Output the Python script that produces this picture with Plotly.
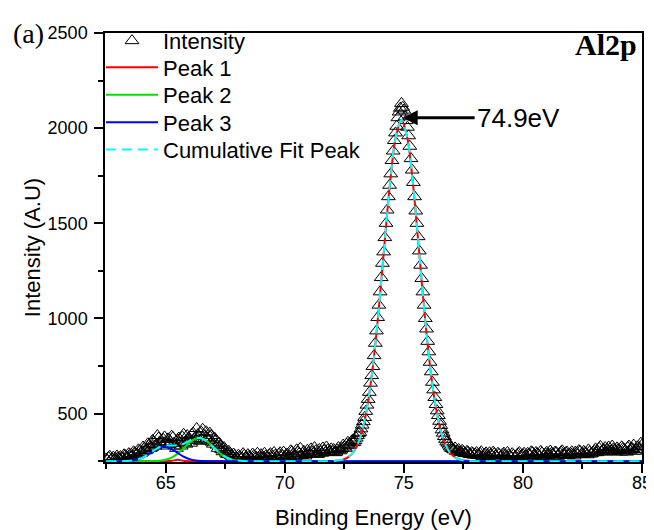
import numpy as np
import plotly.graph_objects as go

# ---------------- data ----------------
# measured spectrum: values on the 0.1 eV grid (62.5 .. 85.0) ...
grid_a = np.round(np.arange(62.5, 85.0001, 0.1), 2)
intensity_a_low = [  # 62.5 .. 71.9
    262, 270, 258, 272, 265, 268, 275, 266, 280, 272,
    285, 278, 295, 288, 305, 298, 318, 310, 335, 322,
    352, 338, 372, 345, 365, 340, 368, 352, 375, 330,
    362, 345, 378, 350, 385, 362, 392, 370, 422, 380,
    402, 365, 405, 358, 385, 340, 362, 318, 332, 300,
    305, 285, 292, 272, 280, 265, 275, 268, 282, 270,
    276, 264, 280, 272, 268, 285, 270, 278, 266, 290,
    275, 282, 268, 295, 280, 272, 288, 276, 300, 282,
    310, 290, 280, 302, 285, 295, 315, 292, 305, 288,
    300, 320, 296, 310, 302,
]
intensity_a_peak = [  # 72.0 .. 78.0
    300, 295, 310, 305, 318, 325, 340, 332, 355, 348,
    372, 395, 420, 458, 512, 575, 660, 748, 870, 1005,
    1140, 1290, 1425, 1570, 1700, 1830, 1935, 2010, 2085, 2130,
    2095, 2040, 1960, 1840, 1715, 1565, 1430, 1280, 1140, 1000,
    880, 770, 665, 585, 515, 460, 415, 380, 352, 335,
    318, 310, 302, 312, 296, 300, 290, 298, 285, 292,
    288,
]
intensity_a_high = [  # 78.1 .. 85.0
    280, 292, 276, 288, 282, 295, 278, 290, 272, 286,
    280, 293, 275, 284, 270, 282, 276, 290, 274, 285,
    278, 292, 280, 296, 283, 290, 276, 294, 282, 298,
    285, 292, 278, 296, 284, 300, 286, 295, 280, 292,
    285, 298, 287, 302, 290, 296, 284, 300, 292, 306,
    295, 318, 300, 312, 298, 325, 305, 315, 300, 312,
    298, 318, 305, 322, 308, 316, 302, 325, 312, 335,
]
# ... and the in-between readings (62.55 .. 84.95)
grid_b = np.round(np.arange(62.55, 84.9501, 0.1), 2)
intensity_b_low = [  # 62.55 .. 71.95
    255, 276, 264, 258, 278, 262, 270, 284, 268, 290,
    274, 300, 282, 310, 292, 325, 305, 342, 318, 360,
    330, 385, 352, 330, 378, 350, 338, 382, 345, 318,
    372, 330, 392, 340, 372, 345, 398, 360, 390, 355,
    418, 385, 372, 398, 350, 372, 335, 345, 312, 322,
    292, 302, 280, 288, 270,
    282, 262, 290, 268, 285, 270, 288, 262, 292, 276,
    268, 292, 272, 284, 268, 296, 274, 288, 270, 298,
    282, 270, 305, 288, 276, 298, 318, 292, 278, 308,
    288, 298, 322, 286, 312, 292, 306, 325, 298, 315,
]
intensity_b_peak = [  # 72.05 .. 77.95
    312, 298, 322, 310, 335, 318, 350, 340, 362, 358,
    385, 402, 440, 480, 545, 612, 700, 805, 935, 1070,
    1215, 1350, 1500, 1640, 1760, 1880, 1975, 2055, 2105, 2110,
    2060, 2005, 1905, 1780, 1640, 1500, 1355, 1210, 1070, 945,
    825, 720, 625, 548, 490, 438, 398, 365, 345, 325,
    315, 320, 305, 298, 308, 292, 302, 288, 296, 282,
]
intensity_b_high = [  # 78.05 .. 84.95
    296, 284, 300, 272, 294, 276, 286, 298, 280, 292,
    270, 288, 282, 296, 278, 290, 268, 284, 296, 280,
    292, 272, 288, 300, 278, 296, 286, 302, 274, 290,
    282, 304, 288, 298, 276, 292, 305, 282, 298, 288,
    300, 278, 294, 306, 286, 302, 292, 310, 288, 298,
    315, 302, 328, 308, 322, 312, 302, 330, 310, 320,
    305, 326, 312, 298, 330, 318, 335, 310, 328, 345,
]
energy = np.concatenate([grid_a, grid_b])
intensity = np.array(intensity_a_low + intensity_a_peak + intensity_a_high
                     + intensity_b_low + intensity_b_peak + intensity_b_high)
order = np.argsort(energy, kind="stable")
energy, intensity = energy[order], intensity[order]

# fitted components
fit_energy = [62.5, 63.0,
              63.5, 63.75, 64.0, 64.25, 64.5, 64.75, 65.0, 65.25, 65.5, 65.75,
              66.0, 66.25, 66.5, 66.75, 67.0, 67.25, 67.5, 67.75, 68.0, 68.25, 68.5,
              69.0, 70.0, 71.0, 71.5,
              71.9, 72.15, 72.4, 72.65, 72.9, 73.15, 73.4, 73.65, 73.9, 74.15,
              74.4, 74.65, 74.9, 75.15, 75.4, 75.65, 75.9, 76.15, 76.4, 76.65,
              76.9, 77.15, 77.4, 77.65, 77.9,
              78.5, 80.0, 82.5, 85.0]
peak1 = [250, 250,
         250, 250, 250, 250, 250, 250, 250, 252, 258, 252,
         250, 250, 250, 250, 250, 250, 250, 250, 250, 250, 250,
         250, 250, 250, 250,
         250, 252, 257, 270, 301, 368, 493, 697, 987, 1338,
         1687, 1947, 2044, 1947, 1687, 1338, 987, 697, 493, 368,
         301, 270, 257, 252, 250,
         250, 250, 250, 250]
peak2 = [250, 250,
         250, 250, 250, 250, 251, 253, 258, 269, 290, 318,
         348, 368, 370, 353, 324, 295, 273, 260, 254, 251, 250,
         250, 250, 250, 250,
         250, 250, 250, 250, 250, 250, 250, 250, 250, 250,
         250, 250, 250, 250, 250, 250, 250, 250, 250, 250,
         250, 250, 250, 250, 250,
         250, 250, 250, 250]
peak3 = [250, 250,
         252, 257, 267, 284, 305, 322, 325, 314, 294, 274,
         261, 254, 251, 250, 250, 250, 250, 250, 250, 250, 250,
         250, 250, 250, 250,
         250, 250, 250, 250, 250, 250, 250, 250, 250, 250,
         250, 250, 250, 250, 250, 250, 250, 250, 250, 250,
         250, 250, 250, 250, 250,
         250, 250, 250, 250]
cumulative = [250, 250,
              252, 257, 267, 285, 306, 325, 333, 333, 333, 342,
              358, 372, 371, 353, 324, 295, 273, 260, 254, 251, 250,
              250, 250, 250, 250,
              250, 252, 257, 270, 301, 368, 493, 697, 987, 1338,
              1687, 1947, 2044, 1947, 1687, 1338, 987, 697, 493, 368,
              301, 270, 257, 252, 250,
              250, 250, 250, 250]

x_ticks = [65, 70, 75, 80, 85]
y_ticks = [500, 1000, 1500, 2000, 2500]

# ---------------- figure ----------------
FONT = "Arial, Liberation Sans, sans-serif"
SERIF = "Times New Roman, Liberation Serif, serif"
PAGE_OFFSET = 8              # default body margin of the html page
W, H = 654 - PAGE_OFFSET, 530 - PAGE_OFFSET
ML, MR, MT, MB = 105 - PAGE_OFFSET, 12, 25 - PAGE_OFFSET, 68
PW, PH = W - ML - MR, H - MT - MB


def px_to_paper(px, py):
    """screen pixel -> paper fraction of the plot area"""
    return (px - PAGE_OFFSET - ML) / PW, (H - MB - (py - PAGE_OFFSET)) / PH


fig = go.Figure()
fig.add_trace(go.Scatter(
    x=energy, y=intensity, mode="markers", name="Intensity", legend="legend",
    marker=dict(symbol="triangle-up-open", size=12, color="black",
                line=dict(width=1, color="black")),
))
line_specs = [("Peak 1", peak1, "#ff0000", "solid", "legend2"),
              ("Peak 2", peak2, "#00e000", "solid", "legend3"),
              ("Peak 3", peak3, "#0000ff", "solid", "legend4"),
              ("Cumulative Fit Peak", cumulative, "#00ffff", "10px,6px", "legend5")]
for name, ys, col, dash, lg in line_specs:
    fig.add_trace(go.Scatter(
        x=fit_energy, y=ys, mode="lines", name=name, legend=lg,
        line=dict(color=col, width=2, dash=dash, shape="spline", smoothing=0.8),
    ))

axis_common = dict(
    showline=True, linecolor="black", linewidth=1.5, mirror=True,
    ticks="outside", ticklen=9, tickwidth=1.5, tickcolor="black",
    showgrid=False, zeroline=False, automargin=False,
    tickfont=dict(family=FONT, size=18, color="black"),
)
fig.update_xaxes(
    range=[62.45, 85.0], tickvals=x_ticks, ticklabelstandoff=-5,
    minor=dict(dtick=2.5, tick0=0, ticks="outside", ticklen=5, tickwidth=1.5,
               tickcolor="black"),
    title=dict(text="Binding Energy (eV)", font=dict(family=FONT, size=22, color="black"),
               standoff=17),
    **axis_common,
)
fig.update_yaxes(
    range=[246, 2500], tickvals=y_ticks, ticklabelstandoff=3,
    minor=dict(dtick=250, tick0=0, ticks="outside", ticklen=5, tickwidth=1.5,
               tickcolor="black"),
    title=dict(text="Intensity (A.U)", font=dict(family=FONT, size=22, color="black"),
               standoff=1),
    **axis_common,
)

fig.add_annotation(x=74.95, y=2055, xref="x", yref="y", text="74.9eV",
                   showarrow=True, arrowhead=2, arrowsize=1, arrowwidth=3,
                   arrowcolor="black", ax=72, ay=0, xanchor="left",
                   font=dict(family=FONT, size=26, color="black"))
ax_, ay_ = px_to_paper(28, 25)
fig.add_annotation(x=ax_, y=ay_, xref="paper", yref="paper",
                   text="(a)", showarrow=False, xanchor="center", yanchor="middle",
                   font=dict(family=SERIF, size=28, color="black"))
bx_, by_ = px_to_paper(639, 37)
fig.add_annotation(x=bx_, y=by_, xref="paper", yref="paper",
                   text="<b>Al2p</b>", showarrow=False, xanchor="right", yanchor="middle",
                   font=dict(family=SERIF, size=30, color="black"))

legend_rows = [33, 60, 88, 116, 144]  # vertical pixel anchors of the legend entries
legend_style = dict(xanchor="left", yanchor="middle",
                    bgcolor="rgba(0,0,0,0)", borderwidth=0, itemwidth=52,
                    font=dict(family=FONT, size=22, color="black"))
legends = {}
for i, row in enumerate(legend_rows):
    key = "legend" if i == 0 else f"legend{i + 1}"
    lx, ly = px_to_paper(101, row)
    legends[key] = dict(x=lx, y=ly, **legend_style)

fig.update_layout(
    width=W, height=H,
    margin=dict(l=ML, r=MR, t=MT, b=MB),
    paper_bgcolor="white", plot_bgcolor="white",
    showlegend=True,
    **legends,
)

fig.write_html("out.html")
